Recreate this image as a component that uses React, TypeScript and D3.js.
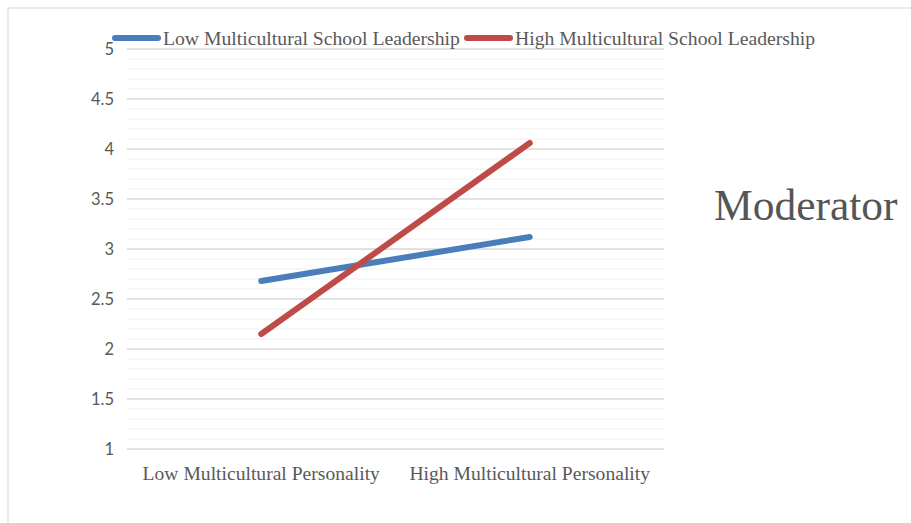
import React from "react";
import * as d3 from "d3";

const categories = ["Low Multicultural Personality", "High Multicultural Personality"];
const seriesNames = ["Low Multicultural School Leadership", "High Multicultural School Leadership"];
const lowLeadership = [2.68, 3.12];
const highLeadership = [2.15, 4.06];
const yTicks = [1, 1.5, 2, 2.5, 3, 3.5, 4, 4.5, 5];
const colors = ["#4A7EBB", "#BE4B48"];

export default function App() {
  const W = 911, H = 523;
  const x = d3.scaleBand<string>().domain(categories).range([127, 664]);
  const y = d3.scaleLinear().domain([1, 5]).range([449, 49]);
  const minor = d3.range(10, 51).map((v) => v / 10);
  const line = d3
    .line<number>()
    .x((_, i) => (x(categories[i]) as number) + x.bandwidth() / 2)
    .y((d) => y(d));
  const series = [lowLeadership, highLeadership];
  const serif = "'Liberation Serif', 'Times New Roman', serif";
  return (
    <svg
      width={W}
      height={H}
      style={{ position: "absolute", left: 0, top: 0, background: "#fff" }}
    >
      <rect x={8} y={8} width={W + 10} height={H + 10} fill="#fff" stroke="#e2e2e2" strokeWidth={1.5} />
      {minor.map((v) => {
        const major = Math.abs(v * 2 - Math.round(v * 2)) < 1e-6;
        return (
          <line
            key={v}
            x1={127}
            x2={664}
            y1={y(v)}
            y2={y(v)}
            stroke={major ? "#d9d9d9" : "#efefef"}
            strokeWidth={major ? 1.3 : 1}
          />
        );
      })}
      {yTicks.map((t) => (
        <text
          key={t}
          x={114}
          y={y(t)}
          dy="0.36em"
          textAnchor="end"
          fontFamily="Lato, 'Open Sans', sans-serif"
          fontSize={16.5}
          fill="#595959"
        >
          {t}
        </text>
      ))}
      {categories.map((c) => (
        <text
          key={c}
          x={(x(c) as number) + x.bandwidth() / 2}
          y={480}
          textAnchor="middle"
          fontFamily={serif}
          fontSize={19.6}
          fill="#595959"
        >
          {c}
        </text>
      ))}
      {series.map((s, i) => (
        <path
          key={i}
          d={line(s) as string}
          fill="none"
          stroke={colors[i]}
          strokeWidth={6}
          strokeLinecap="round"
        />
      ))}
      {seriesNames.map((n, i) => {
        const lx = i === 0 ? 112 : 464;
        return (
          <g key={n}>
            <line x1={lx + 3} x2={lx + 46} y1={38} y2={38} stroke={colors[i]} strokeWidth={6} strokeLinecap="round" />
            <text x={lx + 51} y={45} fontFamily={serif} fontSize={19.7} fill="#595959">
              {n}
            </text>
          </g>
        );
      })}
      <text x={714} y={220} fontFamily={serif} fontSize={43.5} fill="#555555">
        Moderator
      </text>
    </svg>
  );
}
